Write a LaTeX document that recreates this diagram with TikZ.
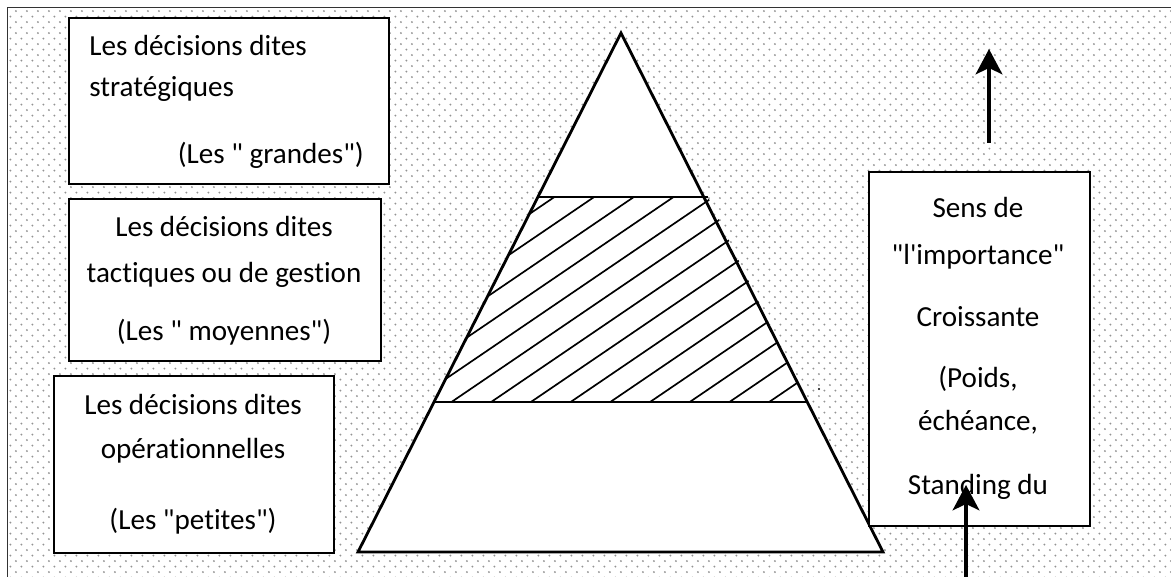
\documentclass[tikz,border=0pt]{standalone}
\usepackage{fontspec}
\setmainfont{Carlito}[Ligatures={TeXOff,NoCommon}]
\usetikzlibrary{arrows.meta, patterns.meta, positioning}

\tikzdeclarepattern{
  name=fondpoints,
  type=uncolored,
  bottom left={(-1pt,-1pt)},
  top right={(6.82pt,6.82pt)},
  tile size={(7.82pt,7.82pt)},
  code={
    \fill (0pt,0pt) circle (0.75pt);
    \fill (3.91pt,3.91pt) circle (0.75pt);
  }
}

\begin{document}
\begin{tikzpicture}[x=0.025cm, y=-0.025cm,
  boite/.style={draw, fill=white, line width=1.3pt, anchor=north west, inner sep=0pt},
  texte/.style={font=\fontsize{20.7}{29}\selectfont, inner sep=0pt, anchor=north, align=center},
  fleche/.style={-{Stealth[length=18pt, width=19pt, inset=4.5pt]}, line width=2.5pt}]

  \useasboundingbox (0,0) rectangle (1171,577);

  % fond pointille et cadre
  \fill[pattern=fondpoints, pattern color=gray!85] (7,7) rectangle (1171,577);
  \draw[line width=0.7pt, black!80] (7,577) -- (7,7) -- (1171,7);

  % les trois niveaux de decision
  \node[boite, minimum width=320*0.025cm, minimum height=166*0.025cm] (strat) at (68,17) {};
  \node[boite, minimum width=312*0.025cm, minimum height=162*0.025cm] (tact) at (68,198) {};
  \node[boite, minimum width=280*0.025cm, minimum height=177*0.025cm] (oper) at (53,375) {};

  \node[texte, anchor=north west, align=left] (stratTxt) at (89,35)
    {Les décisions dites\\stratégiques\\[19pt]\hspace*{63pt}(Les " grandes")};
  \node[texte] (tactTxt) at (224,216)
    {Les décisions dites\\[3.7pt]tactiques ou de gestion\\[12pt](Les " moyennes")};
  \node[texte] (operTxt) at (193,394)
    {Les décisions dites\\[2.3pt]opérationnelles\\[21.5pt](Les "petites")};

  % pyramide
  \coordinate (sommet) at (621,33);
  \coordinate (baseG) at (358,552);
  \coordinate (baseD) at (883,552);
  \fill[white] (sommet) -- (baseG) -- (baseD) -- cycle;
  \begin{scope}
    \clip (538,197) -- (708,197) -- (807,402) -- (434,402) -- cycle;
    \foreach \k in {-1,...,16}
      \draw[line width=1.2pt] (400,{601+27*\k-0.68*400}) -- (850,{601+27*\k-0.68*850});
  \end{scope}
  \draw[line width=2pt, line join=miter] (sommet) -- (baseG) -- (baseD) -- cycle;
  \draw[line width=2pt] (538,197) -- (708,197);
  \draw[line width=2pt] (434,402) -- (807,402);
  \fill (819,389) circle (1.2);

  % sens de l'importance
  \node[boite, minimum width=221*0.025cm, minimum height=354*0.025cm] (sens) at (868,171) {};
  \node[texte] (sensTxt) at (978,197)
    {Sens de\\[4.4pt]"l'importance"\\[15.1pt]Croissante\\[14.4pt](Poids,\\[1.6pt]échéance,\\[16.5pt]Standing du};

  \coordinate (hautDepart) at (989,143);
  \coordinate (hautFin) at (989,49);
  \coordinate (basDepart) at (966,577);
  \coordinate (basFin) at (966,485);
  \draw[fleche] (hautDepart) -- (hautFin);
  \draw[fleche] (basDepart) -- (basFin);
\end{tikzpicture}
\end{document}
